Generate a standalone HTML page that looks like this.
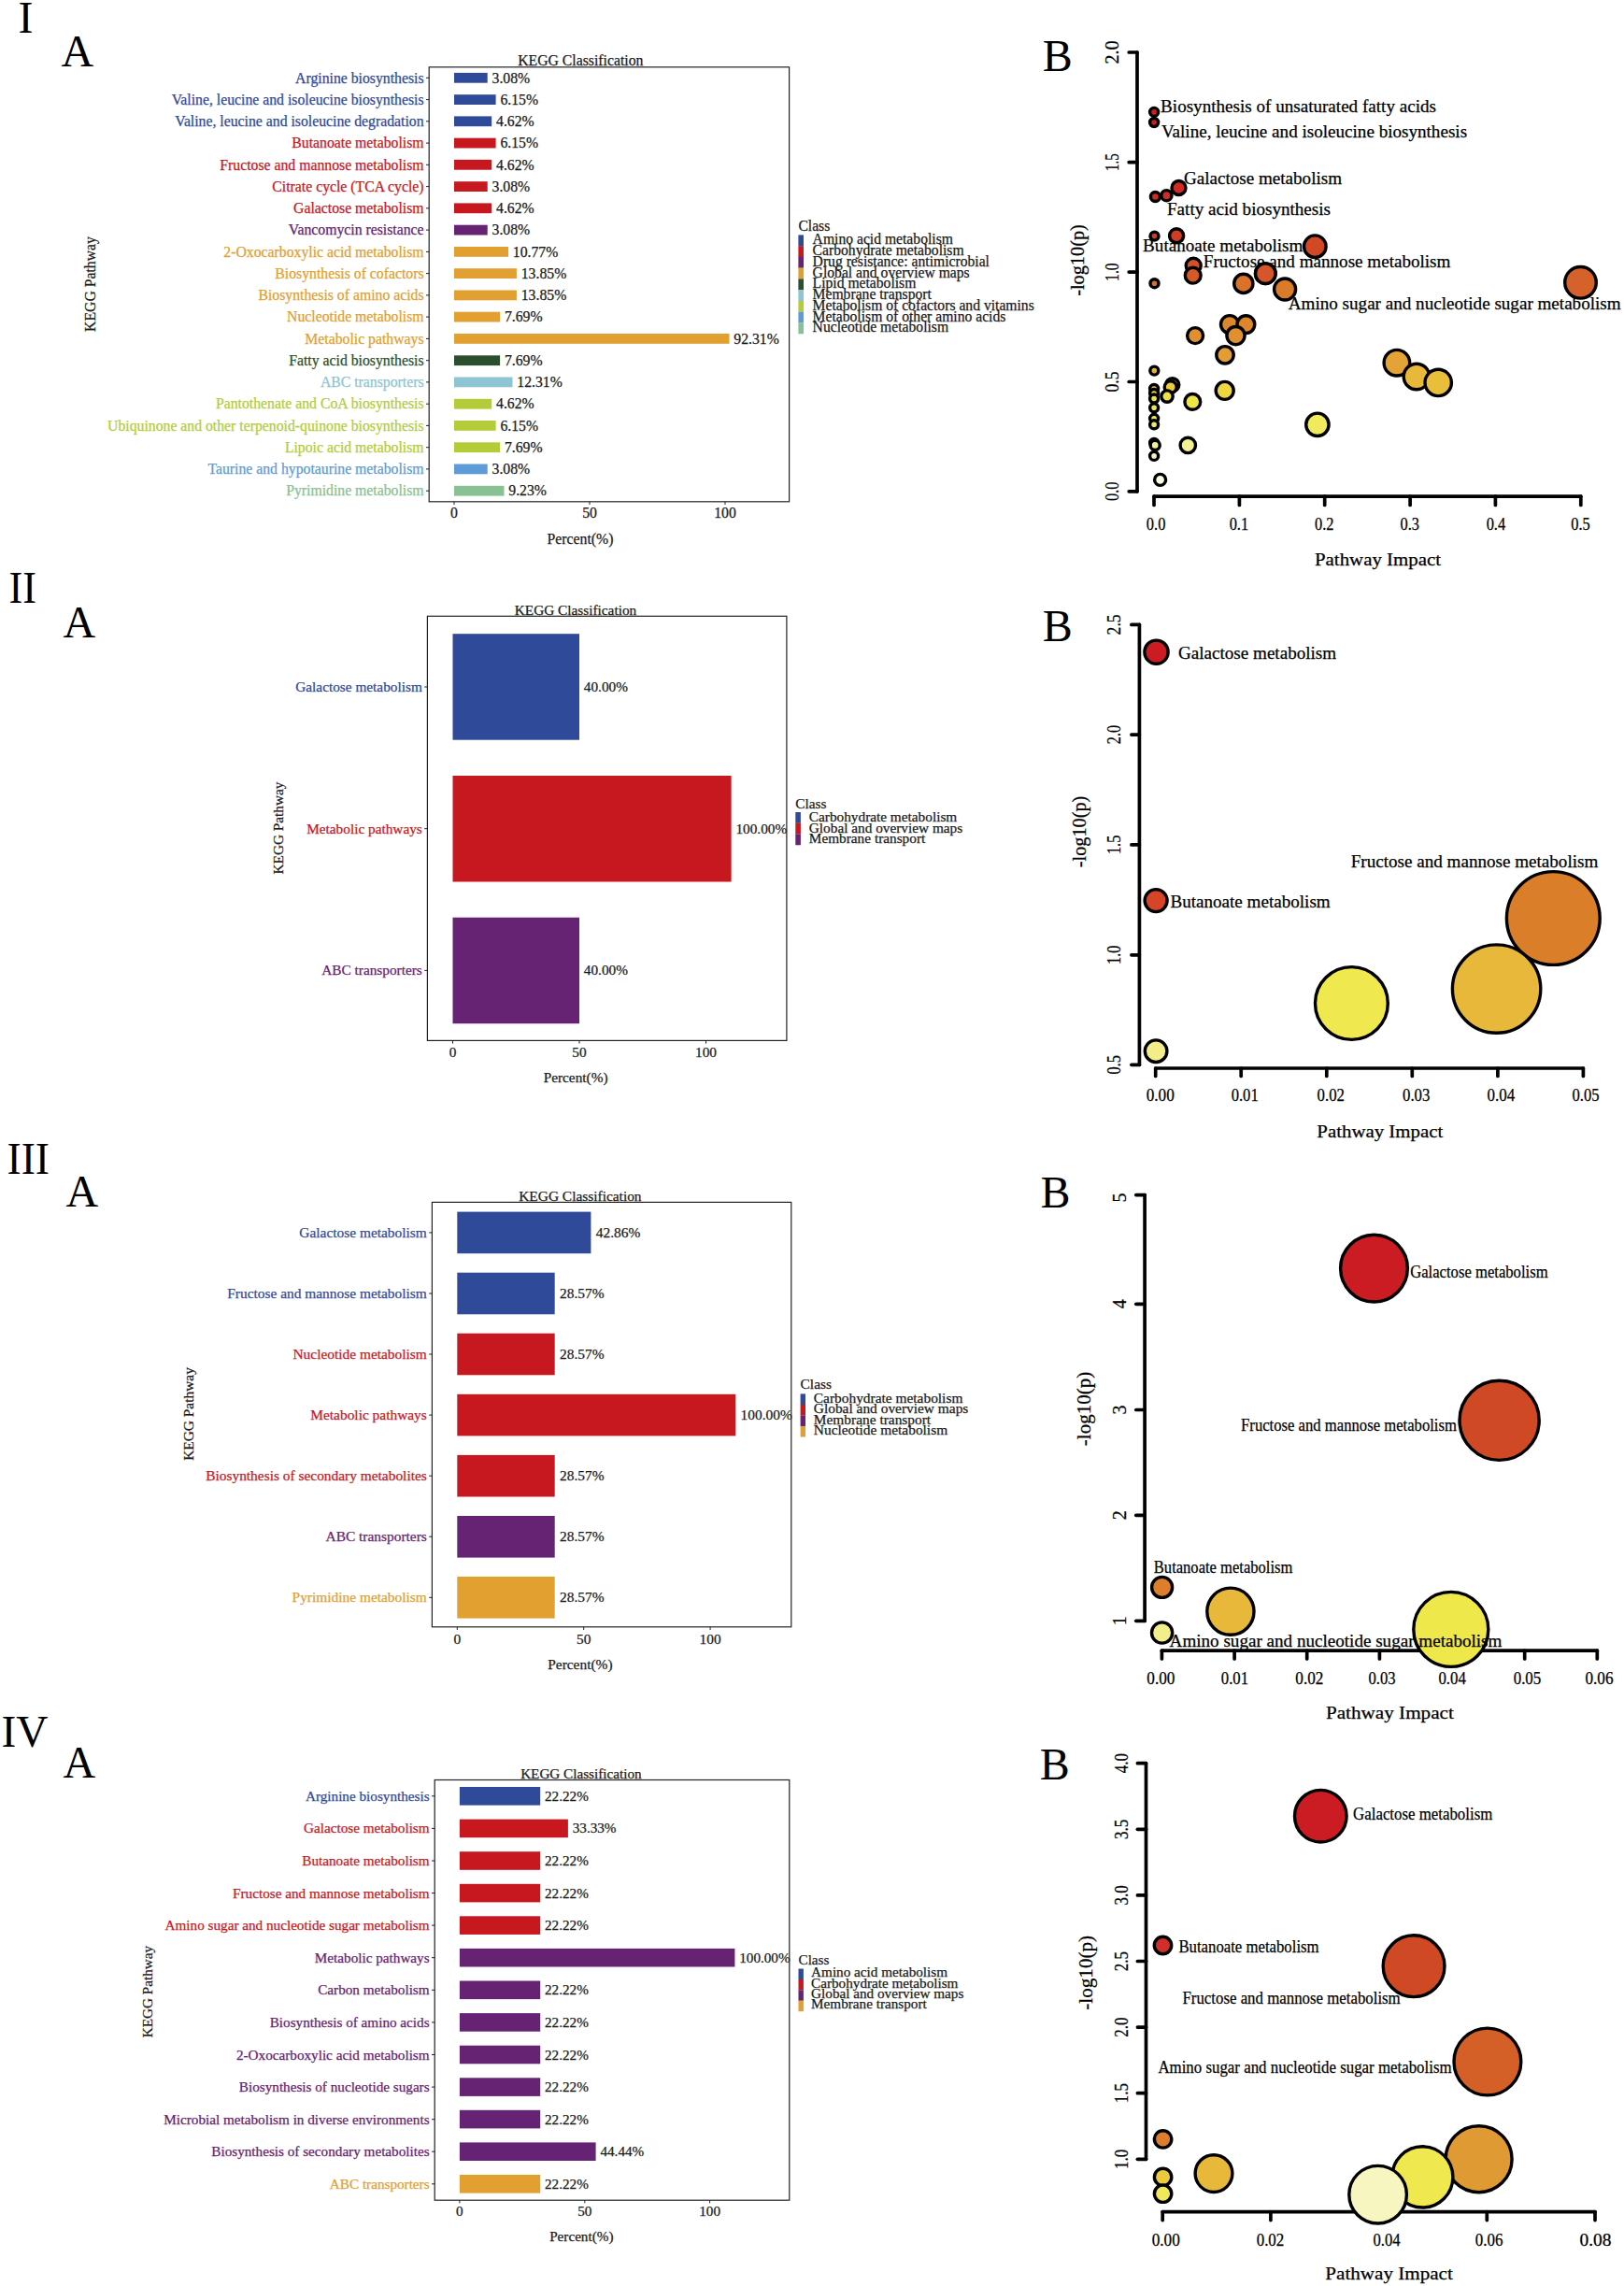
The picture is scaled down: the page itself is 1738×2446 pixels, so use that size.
<!DOCTYPE html>
<html lang="en"><head><meta charset="utf-8"><title>KEGG pathway enrichment figure</title>
<style>html,body{margin:0;padding:0;background:#fff}body{width:1738px;height:2446px;overflow:hidden}svg{display:block}text{font-family:"Liberation Serif","Times New Roman",Times,serif;fill:#1a1a1a;stroke:#1a1a1a;stroke-width:.25px}.tk{stroke:#222;stroke-width:1;fill:none}.bx{fill:none;stroke:#222;stroke-width:1.2}.ax{stroke:#000;stroke-width:3.7;stroke-linecap:round;fill:none}.sc circle{stroke:#000;stroke-width:3.4}.sc text{fill:#000;stroke:#000}.big{font-size:48px;fill:#000;stroke:none}</style></head><body>
<svg width="1738" height="2446" viewBox="0 0 1738 2446">
<rect width="1738" height="2446" fill="#fff"/>
<text x="19.5" y="34.6" class="big">I</text>
<text x="65.5" y="71.4" class="big">A</text>
<text x="1115.7" y="76" class="big">B</text>
<text x="9.5" y="645" class="big" textLength="29.5" lengthAdjust="spacingAndGlyphs">II</text>
<text x="67.5" y="682" class="big">A</text>
<text x="1115.7" y="686" class="big">B</text>
<text x="7.5" y="1255.5" class="big" textLength="45.5" lengthAdjust="spacingAndGlyphs">III</text>
<text x="70.5" y="1291.3" class="big">A</text>
<text x="1113.5" y="1292.2" class="big">B</text>
<text x="1.5" y="1868.6" class="big" textLength="50" lengthAdjust="spacingAndGlyphs">IV</text>
<text x="67.5" y="1902.3" class="big">A</text>
<text x="1112.7" y="1904" class="big">B</text>
<g class="bar">
<rect x="486.0" y="77.9" width="35.7" height="10.8" fill="#304A9A"/>
<text x="453.6" y="88.5" font-size="15.75" text-anchor="end" style="fill:#304A9A;stroke:#304A9A">Arginine biosynthesis</text>
<path d="M456.0 83.3H459.2" class="tk"/>
<text x="526.5" y="88.5" font-size="15.75">3.08%</text>
<rect x="486.0" y="101.2" width="44.6" height="10.8" fill="#304A9A"/>
<text x="453.6" y="111.8" font-size="15.75" text-anchor="end" style="fill:#304A9A;stroke:#304A9A">Valine, leucine and isoleucine biosynthesis</text>
<path d="M456.0 106.6H459.2" class="tk"/>
<text x="535.4" y="111.8" font-size="15.75">6.15%</text>
<rect x="486.0" y="124.4" width="40.2" height="10.8" fill="#304A9A"/>
<text x="453.6" y="135.0" font-size="15.75" text-anchor="end" style="fill:#304A9A;stroke:#304A9A">Valine, leucine and isoleucine degradation</text>
<path d="M456.0 129.8H459.2" class="tk"/>
<text x="531.0" y="135.0" font-size="15.75">4.62%</text>
<rect x="486.0" y="147.7" width="44.6" height="10.8" fill="#C7181F"/>
<text x="453.6" y="158.3" font-size="15.75" text-anchor="end" style="fill:#C7181F;stroke:#C7181F">Butanoate metabolism</text>
<path d="M456.0 153.1H459.2" class="tk"/>
<text x="535.4" y="158.3" font-size="15.75">6.15%</text>
<rect x="486.0" y="170.9" width="40.2" height="10.8" fill="#C7181F"/>
<text x="453.6" y="181.5" font-size="15.75" text-anchor="end" style="fill:#C7181F;stroke:#C7181F">Fructose and mannose metabolism</text>
<path d="M456.0 176.3H459.2" class="tk"/>
<text x="531.0" y="181.5" font-size="15.75">4.62%</text>
<rect x="486.0" y="194.2" width="35.7" height="10.8" fill="#C7181F"/>
<text x="453.6" y="204.8" font-size="15.75" text-anchor="end" style="fill:#C7181F;stroke:#C7181F">Citrate cycle (TCA cycle)</text>
<path d="M456.0 199.6H459.2" class="tk"/>
<text x="526.5" y="204.8" font-size="15.75">3.08%</text>
<rect x="486.0" y="217.4" width="40.2" height="10.8" fill="#C7181F"/>
<text x="453.6" y="228.0" font-size="15.75" text-anchor="end" style="fill:#C7181F;stroke:#C7181F">Galactose metabolism</text>
<path d="M456.0 222.8H459.2" class="tk"/>
<text x="531.0" y="228.0" font-size="15.75">4.62%</text>
<rect x="486.0" y="240.7" width="35.7" height="10.8" fill="#662273"/>
<text x="453.6" y="251.3" font-size="15.75" text-anchor="end" style="fill:#662273;stroke:#662273">Vancomycin resistance</text>
<path d="M456.0 246.1H459.2" class="tk"/>
<text x="526.5" y="251.3" font-size="15.75">3.08%</text>
<rect x="486.0" y="264.0" width="58.0" height="10.8" fill="#E2A030"/>
<text x="453.6" y="274.6" font-size="15.75" text-anchor="end" style="fill:#E2A030;stroke:#E2A030">2-Oxocarboxylic acid metabolism</text>
<path d="M456.0 269.4H459.2" class="tk"/>
<text x="548.8" y="274.6" font-size="15.75">10.77%</text>
<rect x="486.0" y="287.2" width="66.9" height="10.8" fill="#E2A030"/>
<text x="453.6" y="297.8" font-size="15.75" text-anchor="end" style="fill:#E2A030;stroke:#E2A030">Biosynthesis of cofactors</text>
<path d="M456.0 292.6H459.2" class="tk"/>
<text x="557.7" y="297.8" font-size="15.75">13.85%</text>
<rect x="486.0" y="310.5" width="66.9" height="10.8" fill="#E2A030"/>
<text x="453.6" y="321.1" font-size="15.75" text-anchor="end" style="fill:#E2A030;stroke:#E2A030">Biosynthesis of amino acids</text>
<path d="M456.0 315.9H459.2" class="tk"/>
<text x="557.7" y="321.1" font-size="15.75">13.85%</text>
<rect x="486.0" y="333.7" width="49.1" height="10.8" fill="#E2A030"/>
<text x="453.6" y="344.3" font-size="15.75" text-anchor="end" style="fill:#E2A030;stroke:#E2A030">Nucleotide metabolism</text>
<path d="M456.0 339.1H459.2" class="tk"/>
<text x="539.9" y="344.3" font-size="15.75">7.69%</text>
<rect x="486.0" y="357.0" width="294.5" height="10.8" fill="#E2A030"/>
<text x="453.6" y="367.6" font-size="15.75" text-anchor="end" style="fill:#E2A030;stroke:#E2A030">Metabolic pathways</text>
<path d="M456.0 362.4H459.2" class="tk"/>
<text x="785.3" y="367.6" font-size="15.75">92.31%</text>
<rect x="486.0" y="380.3" width="49.1" height="10.8" fill="#2B4F2D"/>
<text x="453.6" y="390.9" font-size="15.75" text-anchor="end" style="fill:#2B4F2D;stroke:#2B4F2D">Fatty acid biosynthesis</text>
<path d="M456.0 385.7H459.2" class="tk"/>
<text x="539.9" y="390.9" font-size="15.75">7.69%</text>
<rect x="486.0" y="403.5" width="62.5" height="10.8" fill="#8DC5D4"/>
<text x="453.6" y="414.1" font-size="15.75" text-anchor="end" style="fill:#8DC5D4;stroke:#8DC5D4">ABC transporters</text>
<path d="M456.0 408.9H459.2" class="tk"/>
<text x="553.3" y="414.1" font-size="15.75">12.31%</text>
<rect x="486.0" y="426.8" width="40.2" height="10.8" fill="#B3CC38"/>
<text x="453.6" y="437.4" font-size="15.75" text-anchor="end" style="fill:#B3CC38;stroke:#B3CC38">Pantothenate and CoA biosynthesis</text>
<path d="M456.0 432.2H459.2" class="tk"/>
<text x="531.0" y="437.4" font-size="15.75">4.62%</text>
<rect x="486.0" y="450.0" width="44.6" height="10.8" fill="#B3CC38"/>
<text x="453.6" y="460.6" font-size="15.75" text-anchor="end" style="fill:#B3CC38;stroke:#B3CC38">Ubiquinone and other terpenoid-quinone biosynthesis</text>
<path d="M456.0 455.4H459.2" class="tk"/>
<text x="535.4" y="460.6" font-size="15.75">6.15%</text>
<rect x="486.0" y="473.3" width="49.1" height="10.8" fill="#B3CC38"/>
<text x="453.6" y="483.9" font-size="15.75" text-anchor="end" style="fill:#B3CC38;stroke:#B3CC38">Lipoic acid metabolism</text>
<path d="M456.0 478.7H459.2" class="tk"/>
<text x="539.9" y="483.9" font-size="15.75">7.69%</text>
<rect x="486.0" y="496.5" width="35.7" height="10.8" fill="#5D9CD6"/>
<text x="453.6" y="507.1" font-size="15.75" text-anchor="end" style="fill:#5D9CD6;stroke:#5D9CD6">Taurine and hypotaurine metabolism</text>
<path d="M456.0 501.9H459.2" class="tk"/>
<text x="526.5" y="507.1" font-size="15.75">3.08%</text>
<rect x="486.0" y="519.8" width="53.5" height="10.8" fill="#88C193"/>
<text x="453.6" y="530.4" font-size="15.75" text-anchor="end" style="fill:#88C193;stroke:#88C193">Pyrimidine metabolism</text>
<path d="M456.0 525.2H459.2" class="tk"/>
<text x="544.3" y="530.4" font-size="15.75">9.23%</text>
<rect x="459.2" y="71.8" width="385.4" height="465.0" class="bx"/>
<path d="M486.0 536.8v3.2" class="tk"/>
<text x="486.0" y="554.3" font-size="15.75" text-anchor="middle">0</text>
<path d="M631.0 536.8v3.2" class="tk"/>
<text x="631.0" y="554.3" font-size="15.75" text-anchor="middle">50</text>
<path d="M776.0 536.8v3.2" class="tk"/>
<text x="776.0" y="554.3" font-size="15.75" text-anchor="middle">100</text>
<text x="621.0" y="581.7" font-size="15.75" text-anchor="middle">Percent(%)</text>
<text x="621.3" y="69.6" font-size="15.75" text-anchor="middle">KEGG Classification</text>
<text x="101.5" y="304.0" font-size="15.75" text-anchor="middle" transform="rotate(-90 101.5 304.0)">KEGG Pathway</text>
<text x="854.4" y="247.2" font-size="15.65">Class</text>
<rect x="854.4" y="251.40" width="5.6" height="11.85" fill="#304A9A"/>
<text x="869.6" y="261.3" font-size="15.65">Amino acid metabolism</text>
<rect x="854.4" y="263.15" width="5.6" height="11.85" fill="#C7181F"/>
<text x="869.6" y="273.1" font-size="15.65">Carbohydrate metabolism</text>
<rect x="854.4" y="274.90" width="5.6" height="11.85" fill="#662273"/>
<text x="869.6" y="284.8" font-size="15.65">Drug resistance: antimicrobial</text>
<rect x="854.4" y="286.65" width="5.6" height="11.85" fill="#E2A030"/>
<text x="869.6" y="296.6" font-size="15.65">Global and overview maps</text>
<rect x="854.4" y="298.40" width="5.6" height="11.85" fill="#2B4F2D"/>
<text x="869.6" y="308.3" font-size="15.65">Lipid metabolism</text>
<rect x="854.4" y="310.15" width="5.6" height="11.85" fill="#8DC5D4"/>
<text x="869.6" y="320.1" font-size="15.65">Membrane transport</text>
<rect x="854.4" y="321.90" width="5.6" height="11.85" fill="#B3CC38"/>
<text x="869.6" y="331.8" font-size="15.65">Metabolism of cofactors and vitamins</text>
<rect x="854.4" y="333.65" width="5.6" height="11.85" fill="#5D9CD6"/>
<text x="869.6" y="343.6" font-size="15.65">Metabolism of other amino acids</text>
<rect x="854.4" y="345.40" width="5.6" height="11.85" fill="#88C193"/>
<text x="869.6" y="355.3" font-size="15.65">Nucleotide metabolism</text>
</g>
<g class="bar">
<rect x="484.5" y="678.2" width="135.5" height="113.5" fill="#304A9A"/>
<text x="451.8" y="740.0" font-size="15.3" text-anchor="end" style="fill:#304A9A;stroke:#304A9A">Galactose metabolism</text>
<path d="M454.2 735.0H457.4" class="tk"/>
<text x="624.8" y="740.0" font-size="15.3">40.00%</text>
<rect x="484.5" y="830.0" width="298.1" height="113.5" fill="#C7181F"/>
<text x="451.8" y="891.7" font-size="15.3" text-anchor="end" style="fill:#C7181F;stroke:#C7181F">Metabolic pathways</text>
<path d="M454.2 886.7H457.4" class="tk"/>
<text x="787.4" y="891.7" font-size="15.3">100.00%</text>
<rect x="484.5" y="981.7" width="135.5" height="113.5" fill="#662273"/>
<text x="451.8" y="1043.4" font-size="15.3" text-anchor="end" style="fill:#662273;stroke:#662273">ABC transporters</text>
<path d="M454.2 1038.4H457.4" class="tk"/>
<text x="624.8" y="1043.4" font-size="15.3">40.00%</text>
<rect x="457.4" y="659.3" width="384.5" height="454.1" class="bx"/>
<path d="M484.5 1113.4v3.2" class="tk"/>
<text x="484.5" y="1130.8" font-size="15.3" text-anchor="middle">0</text>
<path d="M620.0 1113.4v3.2" class="tk"/>
<text x="620.0" y="1130.8" font-size="15.3" text-anchor="middle">50</text>
<path d="M755.5 1113.4v3.2" class="tk"/>
<text x="755.5" y="1130.8" font-size="15.3" text-anchor="middle">100</text>
<text x="616.1" y="1158.0" font-size="15.3" text-anchor="middle">Percent(%)</text>
<text x="616.0" y="657.6" font-size="15.3" text-anchor="middle">KEGG Classification</text>
<text x="303.4" y="886.0" font-size="15.3" text-anchor="middle" transform="rotate(-90 303.4 886.0)">KEGG Pathway</text>
<text x="851.3" y="864.7" font-size="15.3">Class</text>
<rect x="851.3" y="869.00" width="5.6" height="11.82" fill="#304A9A"/>
<text x="865.8" y="878.9" font-size="15.3">Carbohydrate metabolism</text>
<rect x="851.3" y="880.72" width="5.6" height="11.82" fill="#C7181F"/>
<text x="865.8" y="890.6" font-size="15.3">Global and overview maps</text>
<rect x="851.3" y="892.44" width="5.6" height="11.82" fill="#662273"/>
<text x="865.8" y="902.3" font-size="15.3">Membrane transport</text>
</g>
<g class="bar">
<rect x="489.3" y="1296.6" width="143.1" height="44.6" fill="#304A9A"/>
<text x="456.8" y="1324.0" font-size="15.42" text-anchor="end" style="fill:#304A9A;stroke:#304A9A">Galactose metabolism</text>
<path d="M459.2 1318.9H462.4" class="tk"/>
<text x="637.8" y="1324.0" font-size="15.42">42.86%</text>
<rect x="489.3" y="1361.7" width="104.4" height="44.6" fill="#304A9A"/>
<text x="456.8" y="1389.1" font-size="15.42" text-anchor="end" style="fill:#304A9A;stroke:#304A9A">Fructose and mannose metabolism</text>
<path d="M459.2 1384.0H462.4" class="tk"/>
<text x="599.1" y="1389.1" font-size="15.42">28.57%</text>
<rect x="489.3" y="1426.7" width="104.4" height="44.6" fill="#C7181F"/>
<text x="456.8" y="1454.1" font-size="15.42" text-anchor="end" style="fill:#C7181F;stroke:#C7181F">Nucleotide metabolism</text>
<path d="M459.2 1449.0H462.4" class="tk"/>
<text x="599.1" y="1454.1" font-size="15.42">28.57%</text>
<rect x="489.3" y="1491.8" width="297.9" height="44.6" fill="#C7181F"/>
<text x="456.8" y="1519.2" font-size="15.42" text-anchor="end" style="fill:#C7181F;stroke:#C7181F">Metabolic pathways</text>
<path d="M459.2 1514.1H462.4" class="tk"/>
<text x="792.6" y="1519.2" font-size="15.42">100.00%</text>
<rect x="489.3" y="1556.9" width="104.4" height="44.6" fill="#C7181F"/>
<text x="456.8" y="1584.3" font-size="15.42" text-anchor="end" style="fill:#C7181F;stroke:#C7181F">Biosynthesis of secondary metabolites</text>
<path d="M459.2 1579.2H462.4" class="tk"/>
<text x="599.1" y="1584.3" font-size="15.42">28.57%</text>
<rect x="489.3" y="1622.0" width="104.4" height="44.6" fill="#662273"/>
<text x="456.8" y="1649.3" font-size="15.42" text-anchor="end" style="fill:#662273;stroke:#662273">ABC transporters</text>
<path d="M459.2 1644.2H462.4" class="tk"/>
<text x="599.1" y="1649.3" font-size="15.42">28.57%</text>
<rect x="489.3" y="1687.0" width="104.4" height="44.6" fill="#E2A030"/>
<text x="456.8" y="1714.4" font-size="15.42" text-anchor="end" style="fill:#E2A030;stroke:#E2A030">Pyrimidine metabolism</text>
<path d="M459.2 1709.3H462.4" class="tk"/>
<text x="599.1" y="1714.4" font-size="15.42">28.57%</text>
<rect x="462.4" y="1286.4" width="384.4" height="454.4" class="bx"/>
<path d="M489.3 1740.8v3.2" class="tk"/>
<text x="489.3" y="1758.5" font-size="15.42" text-anchor="middle">0</text>
<path d="M624.7 1740.8v3.2" class="tk"/>
<text x="624.7" y="1758.5" font-size="15.42" text-anchor="middle">50</text>
<path d="M760.1 1740.8v3.2" class="tk"/>
<text x="760.1" y="1758.5" font-size="15.42" text-anchor="middle">100</text>
<text x="620.9" y="1786.0" font-size="15.42" text-anchor="middle">Percent(%)</text>
<text x="620.9" y="1285.0" font-size="15.42" text-anchor="middle">KEGG Classification</text>
<text x="206.5" y="1513.0" font-size="15.42" text-anchor="middle" transform="rotate(-90 206.5 1513.0)">KEGG Pathway</text>
<text x="856.6" y="1486.2" font-size="15.42">Class</text>
<rect x="856.6" y="1491.40" width="5.4" height="11.60" fill="#304A9A"/>
<text x="870.8" y="1500.7" font-size="15.42">Carbohydrate metabolism</text>
<rect x="856.6" y="1502.90" width="5.4" height="11.60" fill="#C7181F"/>
<text x="870.8" y="1512.2" font-size="15.42">Global and overview maps</text>
<rect x="856.6" y="1514.40" width="5.4" height="11.60" fill="#662273"/>
<text x="870.8" y="1523.7" font-size="15.42">Membrane transport</text>
<rect x="856.6" y="1525.90" width="5.4" height="11.60" fill="#E2A030"/>
<text x="870.8" y="1535.2" font-size="15.42">Nucleotide metabolism</text>
</g>
<g class="bar">
<rect x="491.9" y="1912.0" width="86.3" height="19.6" fill="#304A9A"/>
<text x="459.6" y="1926.8" font-size="15.2" text-anchor="end" style="fill:#304A9A;stroke:#304A9A">Arginine biosynthesis</text>
<path d="M462.0 1921.8H465.2" class="tk"/>
<text x="583.0" y="1926.8" font-size="15.2">22.22%</text>
<rect x="491.9" y="1946.6" width="116.0" height="19.6" fill="#C7181F"/>
<text x="459.6" y="1961.4" font-size="15.2" text-anchor="end" style="fill:#C7181F;stroke:#C7181F">Galactose metabolism</text>
<path d="M462.0 1956.4H465.2" class="tk"/>
<text x="612.7" y="1961.4" font-size="15.2">33.33%</text>
<rect x="491.9" y="1981.2" width="86.3" height="19.6" fill="#C7181F"/>
<text x="459.6" y="1996.0" font-size="15.2" text-anchor="end" style="fill:#C7181F;stroke:#C7181F">Butanoate metabolism</text>
<path d="M462.0 1991.0H465.2" class="tk"/>
<text x="583.0" y="1996.0" font-size="15.2">22.22%</text>
<rect x="491.9" y="2015.8" width="86.3" height="19.6" fill="#C7181F"/>
<text x="459.6" y="2030.6" font-size="15.2" text-anchor="end" style="fill:#C7181F;stroke:#C7181F">Fructose and mannose metabolism</text>
<path d="M462.0 2025.6H465.2" class="tk"/>
<text x="583.0" y="2030.6" font-size="15.2">22.22%</text>
<rect x="491.9" y="2050.3" width="86.3" height="19.6" fill="#C7181F"/>
<text x="459.6" y="2065.2" font-size="15.2" text-anchor="end" style="fill:#C7181F;stroke:#C7181F">Amino sugar and nucleotide sugar metabolism</text>
<path d="M462.0 2060.1H465.2" class="tk"/>
<text x="583.0" y="2065.2" font-size="15.2">22.22%</text>
<rect x="491.9" y="2084.9" width="294.5" height="19.6" fill="#662273"/>
<text x="459.6" y="2099.7" font-size="15.2" text-anchor="end" style="fill:#662273;stroke:#662273">Metabolic pathways</text>
<path d="M462.0 2094.7H465.2" class="tk"/>
<text x="791.2" y="2099.7" font-size="15.2">100.00%</text>
<rect x="491.9" y="2119.5" width="86.3" height="19.6" fill="#662273"/>
<text x="459.6" y="2134.3" font-size="15.2" text-anchor="end" style="fill:#662273;stroke:#662273">Carbon metabolism</text>
<path d="M462.0 2129.3H465.2" class="tk"/>
<text x="583.0" y="2134.3" font-size="15.2">22.22%</text>
<rect x="491.9" y="2154.1" width="86.3" height="19.6" fill="#662273"/>
<text x="459.6" y="2168.9" font-size="15.2" text-anchor="end" style="fill:#662273;stroke:#662273">Biosynthesis of amino acids</text>
<path d="M462.0 2163.9H465.2" class="tk"/>
<text x="583.0" y="2168.9" font-size="15.2">22.22%</text>
<rect x="491.9" y="2188.7" width="86.3" height="19.6" fill="#662273"/>
<text x="459.6" y="2203.5" font-size="15.2" text-anchor="end" style="fill:#662273;stroke:#662273">2-Oxocarboxylic acid metabolism</text>
<path d="M462.0 2198.5H465.2" class="tk"/>
<text x="583.0" y="2203.5" font-size="15.2">22.22%</text>
<rect x="491.9" y="2223.3" width="86.3" height="19.6" fill="#662273"/>
<text x="459.6" y="2238.1" font-size="15.2" text-anchor="end" style="fill:#662273;stroke:#662273">Biosynthesis of nucleotide sugars</text>
<path d="M462.0 2233.1H465.2" class="tk"/>
<text x="583.0" y="2238.1" font-size="15.2">22.22%</text>
<rect x="491.9" y="2257.8" width="86.3" height="19.6" fill="#662273"/>
<text x="459.6" y="2272.7" font-size="15.2" text-anchor="end" style="fill:#662273;stroke:#662273">Microbial metabolism in diverse environments</text>
<path d="M462.0 2267.7H465.2" class="tk"/>
<text x="583.0" y="2272.7" font-size="15.2">22.22%</text>
<rect x="491.9" y="2292.4" width="145.7" height="19.6" fill="#662273"/>
<text x="459.6" y="2307.3" font-size="15.2" text-anchor="end" style="fill:#662273;stroke:#662273">Biosynthesis of secondary metabolites</text>
<path d="M462.0 2302.2H465.2" class="tk"/>
<text x="642.4" y="2307.3" font-size="15.2">44.44%</text>
<rect x="491.9" y="2327.0" width="86.3" height="19.6" fill="#E2A030"/>
<text x="459.6" y="2341.8" font-size="15.2" text-anchor="end" style="fill:#E2A030;stroke:#E2A030">ABC transporters</text>
<path d="M462.0 2336.8H465.2" class="tk"/>
<text x="583.0" y="2341.8" font-size="15.2">22.22%</text>
<rect x="465.2" y="1904.5" width="379.6" height="449.7" class="bx"/>
<path d="M491.9 2354.2v3.2" class="tk"/>
<text x="491.9" y="2370.7" font-size="15.2" text-anchor="middle">0</text>
<path d="M625.8 2354.2v3.2" class="tk"/>
<text x="625.8" y="2370.7" font-size="15.2" text-anchor="middle">50</text>
<path d="M759.6 2354.2v3.2" class="tk"/>
<text x="759.6" y="2370.7" font-size="15.2" text-anchor="middle">100</text>
<text x="622.3" y="2397.8" font-size="15.2" text-anchor="middle">Percent(%)</text>
<text x="621.9" y="1902.9" font-size="15.2" text-anchor="middle">KEGG Classification</text>
<text x="163.0" y="2131.0" font-size="15.2" text-anchor="middle" transform="rotate(-90 163.0 2131.0)">KEGG Pathway</text>
<text x="854.5" y="2101.8" font-size="15.2">Class</text>
<rect x="854.5" y="2106.50" width="5.4" height="11.50" fill="#304A9A"/>
<text x="868.1" y="2115.2" font-size="15.2">Amino acid metabolism</text>
<rect x="854.5" y="2117.90" width="5.4" height="11.50" fill="#C7181F"/>
<text x="868.1" y="2126.6" font-size="15.2">Carbohydrate metabolism</text>
<rect x="854.5" y="2129.30" width="5.4" height="11.50" fill="#662273"/>
<text x="868.1" y="2138.0" font-size="15.2">Global and overview maps</text>
<rect x="854.5" y="2140.70" width="5.4" height="11.50" fill="#E2A030"/>
<text x="868.1" y="2149.4" font-size="15.2">Membrane transport</text>
</g>
<g class="sc">
<path d="M1217.0 56.0V525.8" class="ax"/>
<path d="M1217.0 56.0h-8.8" class="ax"/>
<text x="1196.9" y="56.0" font-size="20.5" text-anchor="middle" textLength="25.2" lengthAdjust="spacingAndGlyphs" transform="rotate(-90 1196.9 56.0)">2.0</text>
<path d="M1217.0 173.7h-8.8" class="ax"/>
<text x="1196.9" y="173.7" font-size="20.5" text-anchor="middle" textLength="18.6" lengthAdjust="spacingAndGlyphs" transform="rotate(-90 1196.9 173.7)">1.5</text>
<path d="M1217.0 291.1h-8.8" class="ax"/>
<text x="1196.9" y="291.1" font-size="20.5" text-anchor="middle" textLength="19.6" lengthAdjust="spacingAndGlyphs" transform="rotate(-90 1196.9 291.1)">1.0</text>
<path d="M1217.0 408.5h-8.8" class="ax"/>
<text x="1196.9" y="408.5" font-size="20.5" text-anchor="middle" textLength="22.0" lengthAdjust="spacingAndGlyphs" transform="rotate(-90 1196.9 408.5)">0.5</text>
<path d="M1217.0 525.8h-8.8" class="ax"/>
<text x="1196.9" y="525.8" font-size="20.5" text-anchor="middle" textLength="20.6" lengthAdjust="spacingAndGlyphs" transform="rotate(-90 1196.9 525.8)">0.0</text>
<path d="M1235.0 531.2H1691.8" class="ax"/>
<path d="M1235.0 531.2v9.3" class="ax"/>
<text x="1237.1" y="566.5" font-size="18.4" text-anchor="middle" textLength="20.5" lengthAdjust="spacingAndGlyphs">0.0</text>
<path d="M1326.4 531.2v9.3" class="ax"/>
<text x="1325.9" y="566.5" font-size="18.4" text-anchor="middle" textLength="20.5" lengthAdjust="spacingAndGlyphs">0.1</text>
<path d="M1417.7 531.2v9.3" class="ax"/>
<text x="1417.3" y="566.5" font-size="18.4" text-anchor="middle" textLength="20.5" lengthAdjust="spacingAndGlyphs">0.2</text>
<path d="M1509.1 531.2v9.3" class="ax"/>
<text x="1508.8" y="566.5" font-size="18.4" text-anchor="middle" textLength="20.5" lengthAdjust="spacingAndGlyphs">0.3</text>
<path d="M1600.4 531.2v9.3" class="ax"/>
<text x="1600.9" y="566.5" font-size="18.4" text-anchor="middle" textLength="20.5" lengthAdjust="spacingAndGlyphs">0.4</text>
<path d="M1691.8 531.2v9.3" class="ax"/>
<text x="1691.5" y="566.5" font-size="18.4" text-anchor="middle" textLength="20.5" lengthAdjust="spacingAndGlyphs">0.5</text>
<text x="1160.0" y="278.5" font-size="20" text-anchor="middle" textLength="76.6" lengthAdjust="spacingAndGlyphs" transform="rotate(-90 1160.0 278.5)">-log10(p)</text>
<text x="1474.5" y="605.2" font-size="19.5" text-anchor="middle" textLength="135.0" lengthAdjust="spacingAndGlyphs">Pathway Impact</text>
<circle cx="1235.1" cy="119.9" r="4.5" fill="#CB1B23"/>
<circle cx="1235.1" cy="131.0" r="4.5" fill="#CB1D23"/>
<circle cx="1261.5" cy="201.0" r="7.5" fill="#CD2B23"/>
<circle cx="1248.4" cy="209.2" r="5.6" fill="#CD2D23"/>
<circle cx="1236.4" cy="210.5" r="5.0" fill="#CD2E23"/>
<circle cx="1235.5" cy="252.6" r="4.5" fill="#CF3F24"/>
<circle cx="1259.1" cy="252.2" r="7.5" fill="#CF3E24"/>
<circle cx="1407.3" cy="263.7" r="11.8" fill="#D14924"/>
<circle cx="1277.2" cy="284.3" r="8.0" fill="#D35326"/>
<circle cx="1276.7" cy="294.7" r="8.4" fill="#D45927"/>
<circle cx="1235.5" cy="303.2" r="4.5" fill="#D97129"/>
<circle cx="1330.8" cy="303.4" r="10.1" fill="#DA7229"/>
<circle cx="1354.3" cy="292.7" r="10.8" fill="#D6552A"/>
<circle cx="1375.1" cy="309.5" r="11.5" fill="#DB7B2A"/>
<circle cx="1691.5" cy="302.3" r="16.8" fill="#D5622A"/>
<circle cx="1279.1" cy="359.1" r="8.5" fill="#E09031"/>
<circle cx="1316.0" cy="347.1" r="9.5" fill="#DE862D"/>
<circle cx="1333.4" cy="347.1" r="9.4" fill="#DE862D"/>
<circle cx="1322.5" cy="359.1" r="9.6" fill="#E09031"/>
<circle cx="1311.0" cy="379.8" r="9.2" fill="#E39D35"/>
<circle cx="1494.9" cy="388.2" r="13.8" fill="#E4A336"/>
<circle cx="1516.0" cy="403.0" r="13.8" fill="#E8B83A"/>
<circle cx="1539.2" cy="409.4" r="14.2" fill="#E9BE3B"/>
<circle cx="1235.3" cy="396.6" r="4.5" fill="#E6AF38"/>
<circle cx="1254.7" cy="411.8" r="7.1" fill="#EAC53B"/>
<circle cx="1252.7" cy="414.2" r="6.5" fill="#EBCD3C"/>
<circle cx="1249.0" cy="424.1" r="6.2" fill="#EEE046"/>
<circle cx="1235.1" cy="416.0" r="4.5" fill="#ECD23D"/>
<circle cx="1235.1" cy="421.0" r="4.5" fill="#EDDB43"/>
<circle cx="1235.1" cy="426.5" r="4.5" fill="#EEE349"/>
<circle cx="1235.1" cy="436.3" r="4.5" fill="#EFE84C"/>
<circle cx="1235.1" cy="447.8" r="4.5" fill="#F0E957"/>
<circle cx="1235.1" cy="454.3" r="4.5" fill="#F0EA5E"/>
<circle cx="1276.3" cy="429.9" r="8.4" fill="#EFE54A"/>
<circle cx="1310.7" cy="417.9" r="9.5" fill="#EDD640"/>
<circle cx="1409.9" cy="454.3" r="12.2" fill="#F0EA5E"/>
<circle cx="1235.1" cy="474.0" r="4.5" fill="#F4F08F"/>
<circle cx="1236.2" cy="476.4" r="5.0" fill="#F4F195"/>
<circle cx="1271.3" cy="476.4" r="8.2" fill="#F4F195"/>
<circle cx="1235.1" cy="487.9" r="4.5" fill="#F8F6BE"/>
<circle cx="1241.6" cy="513.4" r="6.0" fill="#FEFDE4"/>
<text x="1242.1" y="119.6" font-size="19.1">Biosynthesis of unsaturated fatty acids</text>
<text x="1242.9" y="147.3" font-size="19.1">Valine, leucine and isoleucine biosynthesis</text>
<text x="1266.9" y="196.8" font-size="19.1">Galactose metabolism</text>
<text x="1249.0" y="229.5" font-size="19.1">Fatty acid biosynthesis</text>
<text x="1223.1" y="268.8" font-size="19.1">Butanoate metabolism</text>
<text x="1287.8" y="285.8" font-size="19.1">Fructose and mannose metabolism</text>
<text x="1378.8" y="331.1" font-size="19.1">Amino sugar and nucleotide sugar metabolism</text>
<circle cx="1354.3" cy="292.7" r="10.8" fill="#D6552A"/>
</g>
<g class="sc">
<path d="M1219.4 668.4V1139.3" class="ax"/>
<path d="M1219.4 668.4h-8.5" class="ax"/>
<text x="1199.2" y="668.4" font-size="20.2" text-anchor="middle" textLength="22.0" lengthAdjust="spacingAndGlyphs" transform="rotate(-90 1199.2 668.4)">2.5</text>
<path d="M1219.4 786.1h-8.5" class="ax"/>
<text x="1199.2" y="786.1" font-size="20.2" text-anchor="middle" textLength="20.2" lengthAdjust="spacingAndGlyphs" transform="rotate(-90 1199.2 786.1)">2.0</text>
<path d="M1219.4 903.9h-8.5" class="ax"/>
<text x="1199.2" y="903.9" font-size="20.2" text-anchor="middle" textLength="20.4" lengthAdjust="spacingAndGlyphs" transform="rotate(-90 1199.2 903.9)">1.5</text>
<path d="M1219.4 1021.8h-8.5" class="ax"/>
<text x="1199.2" y="1021.8" font-size="20.2" text-anchor="middle" textLength="20.5" lengthAdjust="spacingAndGlyphs" transform="rotate(-90 1199.2 1021.8)">1.0</text>
<path d="M1219.4 1139.3h-8.5" class="ax"/>
<text x="1199.2" y="1139.3" font-size="20.2" text-anchor="middle" textLength="20.5" lengthAdjust="spacingAndGlyphs" transform="rotate(-90 1199.2 1139.3)">0.5</text>
<path d="M1236.7 1143.0H1694.4" class="ax"/>
<path d="M1236.7 1143.0v8.5" class="ax"/>
<text x="1241.7" y="1177.9" font-size="18.4" text-anchor="middle" textLength="30.1" lengthAdjust="spacingAndGlyphs">0.00</text>
<path d="M1328.2 1143.0v8.5" class="ax"/>
<text x="1332.2" y="1177.9" font-size="18.4" text-anchor="middle" textLength="29.1" lengthAdjust="spacingAndGlyphs">0.01</text>
<path d="M1419.8 1143.0v8.5" class="ax"/>
<text x="1424.3" y="1177.9" font-size="18.4" text-anchor="middle" textLength="29.4" lengthAdjust="spacingAndGlyphs">0.02</text>
<path d="M1511.3 1143.0v8.5" class="ax"/>
<text x="1515.7" y="1177.9" font-size="18.4" text-anchor="middle" textLength="29.4" lengthAdjust="spacingAndGlyphs">0.03</text>
<path d="M1602.9 1143.0v8.5" class="ax"/>
<text x="1606.3" y="1177.9" font-size="18.4" text-anchor="middle" textLength="29.7" lengthAdjust="spacingAndGlyphs">0.04</text>
<path d="M1694.4 1143.0v8.5" class="ax"/>
<text x="1697.1" y="1177.9" font-size="18.4" text-anchor="middle" textLength="29.1" lengthAdjust="spacingAndGlyphs">0.05</text>
<text x="1162.5" y="889.9" font-size="20" text-anchor="middle" textLength="76.5" lengthAdjust="spacingAndGlyphs" transform="rotate(-90 1162.5 889.9)">-log10(p)</text>
<text x="1476.8" y="1217.1" font-size="19.5" text-anchor="middle" textLength="135.0" lengthAdjust="spacingAndGlyphs">Pathway Impact</text>
<circle cx="1237.5" cy="697.7" r="12.6" fill="#CB1B23"/>
<circle cx="1237.1" cy="963.6" r="12.0" fill="#D64527"/>
<circle cx="1237.1" cy="1124.7" r="11.8" fill="#F3EE88"/>
<circle cx="1446.4" cy="1073.5" r="38.9" fill="#EFE84E"/>
<circle cx="1662.3" cy="982.5" r="49.9" fill="#DA7E2A"/>
<circle cx="1601.6" cy="1058.1" r="47.2" fill="#E8B83A"/>
<text x="1261.0" y="704.8" font-size="19.1">Galactose metabolism</text>
<text x="1445.7" y="927.7" font-size="19.1">Fructose and mannose metabolism</text>
<text x="1252.4" y="970.7" font-size="19.1">Butanoate metabolism</text>
</g>
<g class="sc">
<path d="M1225.1 1278.6V1734.3" class="ax"/>
<path d="M1225.1 1278.6h-9.3" class="ax"/>
<text x="1204.7" y="1281.6" font-size="20" text-anchor="middle" transform="rotate(-90 1204.7 1281.6)">5</text>
<path d="M1225.1 1395.3h-9.3" class="ax"/>
<text x="1204.7" y="1395.3" font-size="20" text-anchor="middle" transform="rotate(-90 1204.7 1395.3)">4</text>
<path d="M1225.1 1508.5h-9.3" class="ax"/>
<text x="1204.7" y="1508.5" font-size="20" text-anchor="middle" transform="rotate(-90 1204.7 1508.5)">3</text>
<path d="M1225.1 1621.3h-9.3" class="ax"/>
<text x="1204.7" y="1621.3" font-size="20" text-anchor="middle" transform="rotate(-90 1204.7 1621.3)">2</text>
<path d="M1225.1 1734.3h-9.3" class="ax"/>
<text x="1204.7" y="1734.3" font-size="20" text-anchor="middle" transform="rotate(-90 1204.7 1734.3)">1</text>
<path d="M1243.4 1766.2H1709.3" class="ax"/>
<path d="M1243.4 1766.2v8.8" class="ax"/>
<text x="1242.4" y="1801.6" font-size="18.6" text-anchor="middle" textLength="30.1" lengthAdjust="spacingAndGlyphs">0.00</text>
<path d="M1321.1 1766.2v8.8" class="ax"/>
<text x="1321.4" y="1801.6" font-size="18.6" text-anchor="middle" textLength="29.2" lengthAdjust="spacingAndGlyphs">0.01</text>
<path d="M1398.7 1766.2v8.8" class="ax"/>
<text x="1401.4" y="1801.6" font-size="18.6" text-anchor="middle" textLength="30.1" lengthAdjust="spacingAndGlyphs">0.02</text>
<path d="M1476.4 1766.2v8.8" class="ax"/>
<text x="1479.1" y="1801.6" font-size="18.6" text-anchor="middle" textLength="29.1" lengthAdjust="spacingAndGlyphs">0.03</text>
<path d="M1554.0 1766.2v8.8" class="ax"/>
<text x="1554.1" y="1801.6" font-size="18.6" text-anchor="middle" textLength="29.4" lengthAdjust="spacingAndGlyphs">0.04</text>
<path d="M1631.7 1766.2v8.8" class="ax"/>
<text x="1634.5" y="1801.6" font-size="18.6" text-anchor="middle" textLength="29.7" lengthAdjust="spacingAndGlyphs">0.05</text>
<path d="M1709.3 1766.2v8.8" class="ax"/>
<text x="1711.5" y="1801.6" font-size="18.6" text-anchor="middle" textLength="30.1" lengthAdjust="spacingAndGlyphs">0.06</text>
<text x="1167.0" y="1507.5" font-size="20" text-anchor="middle" textLength="79.3" lengthAdjust="spacingAndGlyphs" transform="rotate(-90 1167.0 1507.5)">-log10(p)</text>
<text x="1487.4" y="1838.9" font-size="19.5" text-anchor="middle" textLength="137.0" lengthAdjust="spacingAndGlyphs">Pathway Impact</text>
<circle cx="1470.5" cy="1357.1" r="35.9" fill="#CB1B23"/>
<circle cx="1604.6" cy="1519.8" r="42.6" fill="#CF4A24"/>
<circle cx="1243.6" cy="1698.4" r="11.0" fill="#DD7E2C"/>
<circle cx="1243.6" cy="1747.0" r="11.1" fill="#F2EF8A"/>
<circle cx="1316.9" cy="1724.2" r="25.1" fill="#E8B83A"/>
<circle cx="1552.8" cy="1743.4" r="40.0" fill="#EFE84A"/>
<text x="1509.2" y="1367.3" font-size="19.8" textLength="147.4" lengthAdjust="spacingAndGlyphs">Galactose metabolism</text>
<text x="1328.1" y="1531.0" font-size="19.8" textLength="230.8" lengthAdjust="spacingAndGlyphs">Fructose and mannose metabolism</text>
<text x="1234.8" y="1683.4" font-size="19.5" textLength="148.6" lengthAdjust="spacingAndGlyphs">Butanoate metabolism</text>
<text x="1251.6" y="1761.9" font-size="19.1">Amino sugar and nucleotide sugar metabolism</text>
</g>
<g class="sc">
<path d="M1226.5 1886.7V2310.3" class="ax"/>
<path d="M1226.5 1886.7h-9.1" class="ax"/>
<text x="1206.8" y="1886.7" font-size="20.3" text-anchor="middle" textLength="21.3" lengthAdjust="spacingAndGlyphs" transform="rotate(-90 1206.8 1886.7)">4.0</text>
<path d="M1226.5 1957.3h-9.1" class="ax"/>
<text x="1206.8" y="1957.3" font-size="20.3" text-anchor="middle" textLength="21.3" lengthAdjust="spacingAndGlyphs" transform="rotate(-90 1206.8 1957.3)">3.5</text>
<path d="M1226.5 2027.9h-9.1" class="ax"/>
<text x="1206.8" y="2027.9" font-size="20.3" text-anchor="middle" textLength="21.3" lengthAdjust="spacingAndGlyphs" transform="rotate(-90 1206.8 2027.9)">3.0</text>
<path d="M1226.5 2098.5h-9.1" class="ax"/>
<text x="1206.8" y="2098.5" font-size="20.3" text-anchor="middle" textLength="21.3" lengthAdjust="spacingAndGlyphs" transform="rotate(-90 1206.8 2098.5)">2.5</text>
<path d="M1226.5 2169.1h-9.1" class="ax"/>
<text x="1206.8" y="2169.1" font-size="20.3" text-anchor="middle" textLength="21.3" lengthAdjust="spacingAndGlyphs" transform="rotate(-90 1206.8 2169.1)">2.0</text>
<path d="M1226.5 2239.7h-9.1" class="ax"/>
<text x="1206.8" y="2239.7" font-size="20.3" text-anchor="middle" textLength="21.3" lengthAdjust="spacingAndGlyphs" transform="rotate(-90 1206.8 2239.7)">1.5</text>
<path d="M1226.5 2310.3h-9.1" class="ax"/>
<text x="1206.8" y="2310.3" font-size="20.3" text-anchor="middle" textLength="21.3" lengthAdjust="spacingAndGlyphs" transform="rotate(-90 1206.8 2310.3)">1.0</text>
<path d="M1244.2 2366.6H1707.0" class="ax"/>
<path d="M1244.2 2366.6v9.0" class="ax"/>
<text x="1247.7" y="2402.6" font-size="18.6" text-anchor="middle" textLength="30.1" lengthAdjust="spacingAndGlyphs">0.00</text>
<path d="M1359.9 2366.6v9.0" class="ax"/>
<text x="1359.5" y="2402.6" font-size="18.6" text-anchor="middle" textLength="29.7" lengthAdjust="spacingAndGlyphs">0.02</text>
<path d="M1475.6 2366.6v9.0" class="ax"/>
<text x="1484.1" y="2402.6" font-size="18.6" text-anchor="middle" textLength="29.1" lengthAdjust="spacingAndGlyphs">0.04</text>
<path d="M1591.3 2366.6v9.0" class="ax"/>
<text x="1593.7" y="2402.6" font-size="18.6" text-anchor="middle" textLength="29.7" lengthAdjust="spacingAndGlyphs">0.06</text>
<path d="M1707.0 2366.6v9.0" class="ax"/>
<text x="1707.5" y="2402.6" font-size="18.6" text-anchor="middle" textLength="34.0" lengthAdjust="spacingAndGlyphs">0.08</text>
<text x="1169.4" y="2110.8" font-size="20" text-anchor="middle" textLength="79.7" lengthAdjust="spacingAndGlyphs" transform="rotate(-90 1169.4 2110.8)">-log10(p)</text>
<text x="1486.6" y="2439.0" font-size="19.5" text-anchor="middle" textLength="136.5" lengthAdjust="spacingAndGlyphs">Pathway Impact</text>
<circle cx="1413.3" cy="1943.2" r="27.8" fill="#CB1B23"/>
<circle cx="1244.5" cy="2081.5" r="9.2" fill="#D02E28"/>
<circle cx="1513.1" cy="2103.7" r="32.9" fill="#CF4A24"/>
<circle cx="1591.9" cy="2206.0" r="35.9" fill="#D45F27"/>
<circle cx="1244.6" cy="2288.9" r="9.2" fill="#DD7E2E"/>
<circle cx="1244.6" cy="2329.4" r="9.2" fill="#EBCB3C"/>
<circle cx="1244.6" cy="2347.2" r="9.2" fill="#F0E95A"/>
<circle cx="1299.0" cy="2325.6" r="19.9" fill="#E8B83A"/>
<circle cx="1582.6" cy="2310.2" r="35.5" fill="#E09A34"/>
<circle cx="1522.3" cy="2329.4" r="32.6" fill="#EFE84E"/>
<circle cx="1474.6" cy="2348.2" r="30.8" fill="#F8F6C0"/>
<text x="1448.1" y="1947.2" font-size="19.5" textLength="149.2" lengthAdjust="spacingAndGlyphs">Galactose metabolism</text>
<text x="1261.4" y="2088.9" font-size="19.5" textLength="150.2" lengthAdjust="spacingAndGlyphs">Butanoate metabolism</text>
<text x="1265.5" y="2143.8" font-size="19.5" textLength="233.2" lengthAdjust="spacingAndGlyphs">Fructose and mannose metabolism</text>
<text x="1239.4" y="2218.4" font-size="19.5" textLength="314.2" lengthAdjust="spacingAndGlyphs">Amino sugar and nucleotide sugar metabolism</text>
</g>
</svg></body></html>
